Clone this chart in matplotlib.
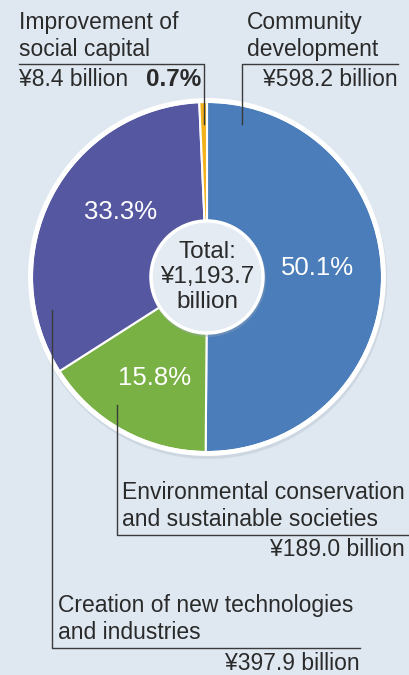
import numpy as np
import matplotlib
matplotlib.use("Agg")
import matplotlib.pyplot as plt
from matplotlib.patches import Circle

plt.rcParams['font.family'] = ['Liberation Sans', 'DejaVu Sans']

# data (clockwise from 12 o'clock)
categories = ["Community\ndevelopment", "Environmental conservation\nand sustainable societies",
              "Creation of new technologies\nand industries", "Improvement of\nsocial capital"]
amounts = [598.2, 189.0, 397.9, 8.4]  # billion yen
pct_labels = ["50.1%", "15.8%", "33.3%", "0.7%"]
amount_labels = ["¥598.2 billion", "¥189.0 billion", "¥397.9 billion", "¥8.4 billion"]
total_label = "Total:\n¥1,193.7\nbillion"
colors = ["#4a7db9", "#79b145", "#5558a1", "#f3b21b"]

W, H = 409, 675
bg = "#dfe8f1"
txt = "#2a2a2a"

def Y(y):
    return H - y

fig = plt.figure(figsize=(W / 100, H / 100), dpi=100, facecolor=bg)
ax = fig.add_axes([0, 0, 1, 1])

cx, cy, r = 207, 277, 175
# soft shadow under the pie
ax.add_patch(Circle((cx + 1, Y(cy) - 3), r + 4, fc="#9aa8b8", ec="none", alpha=0.25, zorder=0))
wedges, _ = ax.pie(amounts, colors=colors, startangle=90, counterclock=False,
                   center=(cx, Y(cy)), radius=r, frame=True,
                   wedgeprops=dict(edgecolor="white", linewidth=1.5))
ax.set_xlim(0, W)
ax.set_ylim(0, H)
ax.set_aspect("equal")
ax.axis("off")
ax.add_patch(Circle((cx, Y(cy)), r + 1.5, fill=False, ec="white", lw=3.5, zorder=3))

# center disc
ax.add_patch(Circle((cx + 1, Y(cy) - 2), 58, fc="#9aa8b8", ec="none", alpha=0.35, zorder=4))
ax.add_patch(Circle((cx, Y(cy)), 56, fc="#e4ebf3", ec="white", lw=2.5, zorder=5))
ax.text(cx, Y(cy), total_label, ha="center", va="center", fontsize=17.5,
        color=txt, linespacing=1.2, zorder=6)

# percent labels inside slices
ax.text(317, Y(268), pct_labels[0], color="white", fontsize=18.5, ha="center", va="center", zorder=6)
ax.text(155, Y(378), pct_labels[1], color="white", fontsize=18.5, ha="center", va="center", zorder=6)
ax.text(121, Y(212), pct_labels[2], color="white", fontsize=18.5, ha="center", va="center", zorder=6)

lc = "#3a3a3a"
lw = 1.0
fs = 16.5
# Improvement of social capital
ax.plot([19, 204, 204], [Y(64), Y(64), Y(124)], color=lc, lw=lw, zorder=7)
ax.text(19, Y(36), categories[3], fontsize=fs, color=txt, va="center", ha="left", linespacing=1.25)
ax.text(19, Y(80), amount_labels[3], fontsize=fs, color=txt, va="center", ha="left")
ax.text(201, Y(80), pct_labels[3], fontsize=17.5, color=txt, va="center", ha="right", fontweight="bold")

# Community development
ax.plot([398, 242, 242], [Y(64), Y(64), Y(124)], color=lc, lw=lw, zorder=7)
ax.text(247, Y(36), categories[0], fontsize=fs, color=txt, va="center", ha="left", linespacing=1.25)
ax.text(398, Y(80), amount_labels[0], fontsize=fs, color=txt, va="center", ha="right")

# Environmental conservation
ax.plot([117, 117, 409], [Y(405), Y(535), Y(535)], color=lc, lw=lw, zorder=7)
ax.text(122, Y(506), categories[1], fontsize=fs, color=txt, va="center", ha="left", linespacing=1.25)
ax.text(405, Y(550), amount_labels[1], fontsize=fs, color=txt, va="center", ha="right")

# Creation of new technologies
ax.plot([52, 52, 360], [Y(310), Y(648), Y(648)], color=lc, lw=lw, zorder=7)
ax.text(58, Y(619), categories[2], fontsize=fs, color=txt, va="center", ha="left", linespacing=1.25)
ax.text(360, Y(664), amount_labels[2], fontsize=fs, color=txt, va="center", ha="right")

fig.savefig("out.png", dpi=100, facecolor=bg)
